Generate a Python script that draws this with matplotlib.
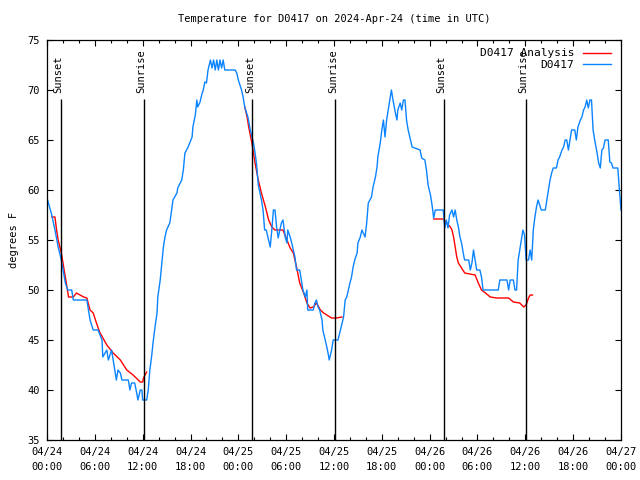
import numpy as np
import matplotlib
matplotlib.use("Agg")
import matplotlib.pyplot as plt

# station D0417, hours since 2024-04-24 00:00 UTC
obs_hours = [
    0, 0.6, 1.0, 1.4, 1.8, 2.3, 2.6, 3.1, 3.3, 5.0, 5.4, 5.8, 6.4, 6.9, 7.0, 7.5, 7.7,
    8.1, 8.5, 8.7, 8.9, 9.2, 9.4, 10.2, 10.4, 10.6, 11.0, 11.3, 11.4, 11.7, 11.9, 12.0, 12.5,
    12.7, 12.9, 13.1, 13.3, 13.5, 13.8, 13.9, 14.2, 14.4, 14.6, 14.8, 15.0, 15.4, 15.6, 15.8,
    16.3, 16.4, 16.9, 17.1, 17.3, 17.5, 17.7, 18.2, 18.3, 18.6, 18.8, 18.9, 19.2, 19.4, 19.6,
    19.8, 20.0, 20.2, 20.5, 20.7, 20.9, 21.1, 21.3, 21.5, 21.7, 21.9, 22.1, 22.3, 23.6, 23.8,
    24.0, 24.4,
    24.6, 24.8, 25.2, 25.5, 25.9, 26.1, 26.3, 26.5, 26.9, 27.1, 27.3, 27.5, 27.7, 28.0, 28.2,
    28.4, 28.6, 28.8, 29.0, 29.2, 29.4, 29.6, 29.9, 30.1, 30.2, 30.5, 30.7, 30.9, 31.1, 31.3,
    31.7, 31.9, 32.1, 32.4, 32.6, 32.7, 33.4, 33.6, 33.8, 34.0, 34.2, 34.5, 34.6, 34.9, 35.1,
    35.3, 35.4, 35.7, 35.9, 36.5,
    36.8, 37.0, 37.2, 37.4, 37.6, 37.8, 38.0, 38.2, 38.4, 38.6, 38.9, 39.0, 39.3, 39.5, 39.9,
    40.1, 40.3, 40.7, 40.9, 41.2, 41.4, 41.5, 41.8, 42.0, 42.2, 42.4, 42.6, 42.8, 43.0, 43.2,
    43.4, 43.7, 43.9, 44.0, 44.3, 44.5, 44.7, 44.9, 45.1, 45.3, 45.5, 45.8, 46.8, 47.0, 47.4,
    47.6, 47.8, 48.1, 48.3, 48.5, 48.7,
    49.7, 49.9, 50.1, 50.3, 50.5, 50.8, 51.0, 51.2, 51.4, 51.6, 51.8, 52.0, 52.3, 52.4, 52.9,
    53.1, 53.3, 53.5, 53.7, 53.9, 54.3, 54.5, 54.7, 56.6, 56.8, 57.7, 57.9, 58.1, 58.5, 58.7,
    58.9, 59.1, 59.3, 59.5, 59.7, 59.9, 60.1,
    60.4, 60.6, 60.8, 61.0, 61.2, 61.4, 61.6, 61.8, 62.0, 62.5, 62.7, 62.9, 63.1, 63.3, 63.5,
    63.9, 64.1, 64.3, 64.6, 64.8, 65.0, 65.2, 65.4, 65.6, 65.8, 66.2, 66.4, 66.6, 66.9, 67.1,
    67.3, 67.5, 67.7, 67.9, 68.1, 68.3, 68.5, 68.7, 69.0, 69.2, 69.4, 69.6, 69.8, 70.0, 70.2,
    70.4, 70.6, 70.8, 71.0, 71.6, 71.8, 72.0,
]
obs_temp = [
    59.2, 57.5, 56, 54.3, 53, 50.7, 50, 50, 49, 49, 47, 46, 46, 45, 43.3, 44, 43,
    44, 42, 41, 42, 41.7, 41, 41, 40, 40.7, 40.7, 39.5, 39, 40, 40, 39, 39,
    40, 42, 43.2, 44.7, 46, 47.7, 49.3, 51, 52.7, 54.3, 55.3, 56, 56.7, 57.8, 59,
    59.7, 60.2, 61, 62, 63.7, 64, 64.3, 65.3, 66.3, 67.5, 69, 68.3, 68.8, 69.5, 70,
    70.8, 70.7, 72, 73, 72.2, 73, 72, 73, 72, 73, 72.2, 73, 72, 72, 71.7,
    71, 70,
    69.3, 68.3, 67.3, 66, 64.7, 63.7, 62.5, 60.5, 59, 58, 56, 56, 55.3, 54.3, 56,
    58, 58, 56.3, 55.2, 56, 56.7, 57, 55.2, 54.7, 56, 55.3, 54.7, 54, 53.3, 52,
    52, 51, 50, 49.3, 50, 48, 48, 48.7, 49, 48.3, 48, 47, 46, 45, 44.3,
    43.5, 43, 44, 45, 45,
    46, 46.7, 47.3, 49, 49.3, 50, 50.7, 51.3, 52.3, 53, 53.7, 54.7, 55.3, 56, 55.3,
    56.7, 58.7, 59.3, 60.3, 61.3, 62.3, 63.3, 64.7, 66, 67, 65.3, 67, 68, 69, 70,
    69, 67.7, 67, 68, 68.7, 68, 69, 69, 67, 66, 65.3, 64.3, 64, 63.2, 63,
    62, 60.5, 59.5, 58.5, 57.2, 58,
    58, 56.2, 57, 56.2, 57.5, 58, 57.3, 58, 57, 56.3, 55.3, 54.7, 53.3, 53, 53,
    52, 52.7, 54, 53, 52, 52, 51.3, 50, 50, 51, 51, 50, 51, 51, 50,
    50, 53, 54, 55, 56, 55.5, 53,
    53, 54, 53, 56, 57.3, 58.3, 59, 58.5, 58, 58, 59, 60, 61, 61.7, 62.2,
    62.2, 63, 63.3, 64, 64.3, 65, 65, 64, 65, 66, 66, 65, 66.3, 67, 67.3,
    68, 68.3, 69, 68.2, 69, 69, 66, 65, 63.7, 62.7, 62.2, 64, 64.2, 65, 65,
    65, 62.8, 62.7, 62.2, 62.2, 60, 58,
]

# analysis, only over the nights (nan = gap)
nan = np.nan
ana_hours = [
    0.6, 1.0, 1.2, 1.4, 1.8, 2.3, 2.7, 3.3, 3.7, 4.6, 5.0, 5.4, 5.8, 6.2, 6.6, 7.5,
    8.3, 9.2, 10.0, 10.8, 11.7, 12.0, 12.1, 12.5, 18.0,
    24.8, 25.1, 25.3, 25.7, 26.1, 26.5, 26.9, 27.4, 27.8, 28.2, 28.6, 29.6, 30.1, 30.5,
    30.9, 31.3, 31.7, 32.2, 32.6, 33.0, 33.4, 33.8, 34.3, 34.7, 35.1, 35.7, 36.3, 37.0, 42.0,
    48.5, 49.7, 50.1, 50.6, 50.8, 51.0, 51.2, 51.4, 51.6, 52.0, 52.4, 53.7, 54.1, 54.5,
    55.0, 55.6, 56.4, 57.9, 58.5, 59.3, 59.8, 60.1, 60.4, 60.6, 60.9,
]
ana_temp = [
    57.3, 57.3, 56, 55, 53.7, 51.3, 49.3, 49.3, 49.7, 49.3, 49.2, 48, 47.7, 46.7, 45.8, 44.5,
    43.7, 43, 42, 41.5, 40.8, 40.8, 41.2, 41.8, nan,
    68.3, 67.3, 66.3, 64.7, 62.7, 61, 59.7, 58.3, 57, 56.3, 56, 56, 55, 54.2,
    53.7, 52.3, 50.7, 49.7, 48.7, 48.2, 48.3, 48.7, 48, 47.7, 47.5, 47.2, 47.2, 47.3, nan,
    57.1, 57.1, 56.7, 56.3, 56, 55.3, 54.3, 53.3, 52.7, 52.2, 51.7, 51.5, 50.7, 50,
    49.7, 49.3, 49.2, 49.2, 48.8, 48.7, 48.3, 48.5, 49.2, 49.5, 49.5,
]

sun_hours = [1.75, 12.15, 25.75, 36.15, 49.75, 60.1]
sun_labels = ["Sunset", "Sunrise", "Sunset", "Sunrise", "Sunset", "Sunrise"]

xtick_hours = list(range(0, 73, 6))
xtick_labels = ["04/24\n00:00", "04/24\n06:00", "04/24\n12:00", "04/24\n18:00",
                "04/25\n00:00", "04/25\n06:00", "04/25\n12:00", "04/25\n18:00",
                "04/26\n00:00", "04/26\n06:00", "04/26\n12:00", "04/26\n18:00",
                "04/27\n00:00"]
ytick_vals = list(range(35, 76, 5))

plt.rcParams['font.family'] = ['DejaVu Sans Mono']
plt.rcParams['font.size'] = 7.5

fig = plt.figure(figsize=(6.4, 4.8), dpi=100)
ax = fig.add_axes([47 / 640, 40 / 480, 574 / 640, 400 / 480])

ax.plot(ana_hours, ana_temp, color='#ff0000', lw=1.0, label='D0417 Analysis')
ax.plot(obs_hours, obs_temp, color='#0a84ff', lw=1.0, label='D0417')

for h, lab in zip(sun_hours, sun_labels):
    ax.vlines(h, 35, 69.1, color='black', lw=1.0)
    ax.text(h - 0.3, 69.7, lab, rotation=90, ha='center', va='bottom', fontsize=7.5)

ax.set_xlim(0, 72)
ax.set_ylim(35, 75)
ax.set_xticks(xtick_hours)
ax.set_xticklabels(xtick_labels, linespacing=1.6)
ax.set_xticks(range(0, 73, 2), minor=True)
ax.set_yticks(ytick_vals)
ax.tick_params(which='both', direction='in', top=True, right=True, width=0.8, pad=5)
ax.tick_params(which='major', length=4.5)
ax.tick_params(which='minor', length=2.5)
for s in ax.spines.values():
    s.set_linewidth(0.9)

ax.set_ylabel('degrees F', labelpad=6)
ax.set_title('Temperature for D0417 on 2024-Apr-24 (time in UTC)', fontsize=7.5, pad=13)
ax.legend(loc='upper right', bbox_to_anchor=(0.99, 0.99), frameon=False,
          markerfirst=False, handlelength=2.5, borderaxespad=0.0, labelspacing=0.15,
          handletextpad=0.8, fontsize=8)

fig.savefig('out.png', dpi=100)
